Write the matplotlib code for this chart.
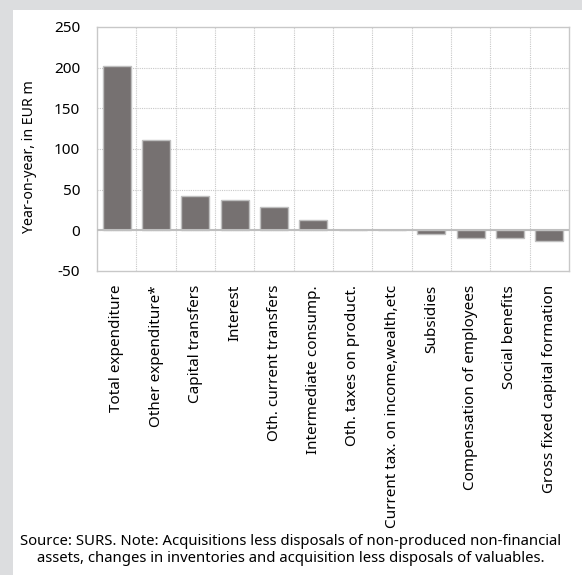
import matplotlib
matplotlib.use("Agg")
import matplotlib.pyplot as plt
from matplotlib.patches import Rectangle

categories = ["Total expenditure", "Other expenditure*", "Capital transfers", "Interest",
              "Oth. current transfers", "Intermediate consump.", "Oth. taxes on product.",
              "Current tax. on income,wealth,etc", "Subsidies", "Compensation of employees",
              "Social benefits", "Gross fixed capital formation"]
values = [202, 111, 42, 37, 29, 13, 1, 0.5, -4, -9, -9.5, -13]
yticks = [-50, 0, 50, 100, 150, 200, 250]
ylabel = "Year-on-year, in EUR m"
note = ("Source: SURS. Note: Acquisitions less disposals of non-produced non-financial\n"
        "assets, changes in inventories and acquisition less disposals of valuables.")

plt.rcParams['font.family'] = ['Noto Sans', 'DejaVu Sans']
plt.rcParams['axes.unicode_minus'] = False

W, H = 582, 575
fig = plt.figure(figsize=(W / 100, H / 100), dpi=100)
fig.patch.set_facecolor('#dcdddf')
fig.patches.append(Rectangle((13 / W, 0), 1 - 13 / W, 1 - 10 / H, transform=fig.transFigure,
                             facecolor='white', edgecolor='none', zorder=-5))

ax = fig.add_axes([97 / W, 1 - 271 / H, (569 - 97) / W, (271 - 27) / H])
ax.set_zorder(2)
x = list(range(len(categories)))
ax.bar(x, values, width=0.71, color='#767171', edgecolor='#bfbfbf', linewidth=1, zorder=3)
ax.axhline(0, color='#bfbfbf', linewidth=1.5, zorder=4)

ax.set_xlim(-0.5, len(categories) - 0.5)
ax.set_ylim(-50, 250)
ax.set_yticks(yticks)
ax.set_xticks(x)
ax.set_xticklabels(categories, rotation=90, fontsize=11)
ax.tick_params(axis='y', length=0, pad=12, labelsize=11)
ax.tick_params(axis='x', length=0, pad=10)

for v in yticks[1:-1]:
    ax.axhline(v, color='#c8c8c8', linestyle=(0, (1, 1)), linewidth=0.8, zorder=1)
for i in range(len(categories) - 1):
    ax.axvline(i + 0.5, color='#c8c8c8', linestyle=(0, (1, 1)), linewidth=0.8, zorder=1)

for s in ax.spines.values():
    s.set_color('#c8c8c8')
    s.set_linewidth(1)

ax.set_ylabel(ylabel, fontsize=10.2)
ax.yaxis.set_label_coords(-60 / 472, 0.47)

fig.text(291 / W, 1 - 550 / H, note, ha='center', va='center', fontsize=10.7, linespacing=1.1)

fig.savefig("out.png", dpi=100, facecolor=fig.get_facecolor())
